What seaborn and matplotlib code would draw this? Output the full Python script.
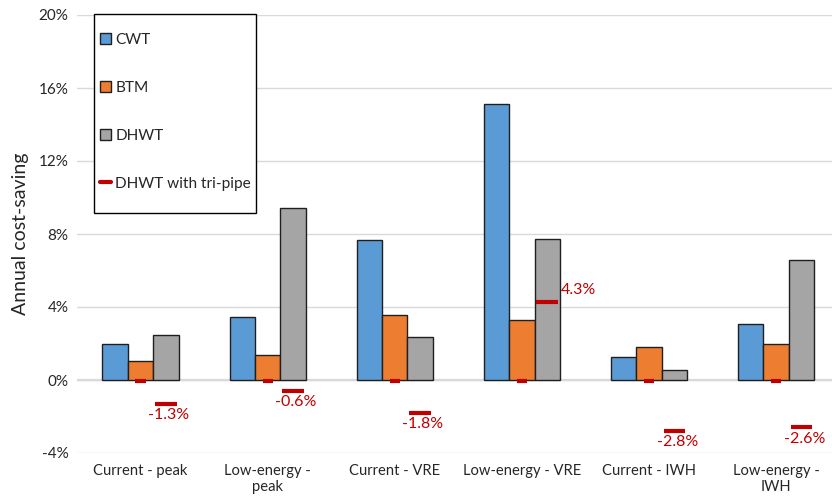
import numpy as np
import pandas as pd
import matplotlib
matplotlib.use("Agg")
import matplotlib.pyplot as plt
import seaborn as sns
from matplotlib.patches import Patch, Rectangle
from matplotlib.lines import Line2D

categories = ["Current - peak", "Low-energy -\npeak", "Current - VRE",
              "Low-energy - VRE", "Current - IWH", "Low-energy -\nIWH"]
cwt = [1.95, 3.45, 7.65, 15.1, 1.25, 3.05]
btm = [1.05, 1.35, 3.55, 3.3, 1.8, 1.95]
dhwt = [2.45, 9.4, 2.35, 7.75, 0.55, 6.6]
tripipe_zero = [0, 0, 0, 0, 0, 0]
tripipe = [-1.3, -0.6, -1.8, 4.3, -2.8, -2.6]
tripipe_labels = ["-1.3%", "-0.6%", "-1.8%", "4.3%", "-2.8%", "-2.6%"]
series = ["CWT", "BTM", "DHWT"]
colors = ["#5B9BD5", "#ED7D31", "#A5A5A5"]
red = "#C00000"
W, H = 832, 504

sns.set_theme(style="white")
plt.rcParams["font.family"] = ["Lato", "DejaVu Sans"]

df = pd.DataFrame({
    "category": categories * 3,
    "series": [s for s in series for _ in categories],
    "value": cwt + btm + dhwt,
})

fig = plt.figure(figsize=(W / 100, H / 100), dpi=100)
ax = fig.add_axes([77 / W, 51 / H, 755 / W, 438 / H])

sns.barplot(data=df, x="category", y="value", hue="series", order=categories,
            hue_order=series, palette=colors, saturation=1, width=0.6, ax=ax,
            edgecolor="#1f1f1f", linewidth=1.0, legend=False, zorder=3)

ax.set_ylim(-4, 20)
ax.set_xlim(-0.5, 5.44)
ax.set_yticks(np.arange(-4, 21, 4))
ax.set_yticklabels([f"{v}%" for v in range(-4, 21, 4)])
ax.yaxis.grid(True, color="#D9D9D9", linewidth=1.0, zorder=0)
ax.axhline(0, color="#D9D9D9", linewidth=1.6, zorder=2)
for s in ax.spines.values():
    s.set_visible(False)
ax.tick_params(axis="both", length=0, colors="#262626")
ax.tick_params(axis="x", pad=8, labelsize=10.6)
ax.tick_params(axis="y", pad=6, labelsize=11)
ax.set_xlabel("")
ax.set_ylabel("Annual cost-saving", fontsize=14, color="#262626")
ax.yaxis.set_label_coords(-0.064, 0.5)

x = np.arange(len(categories))
# zero markers of tri-pipe series at category centers
for xi, v in zip(x, tripipe_zero):
    ax.plot([xi - 0.04, xi + 0.04], [v - 0.08, v - 0.08], color=red,
            linewidth=3, solid_capstyle="butt", zorder=4)

# tri-pipe values at DHWT bar position
for xi, v, lab in zip(x, tripipe, tripipe_labels):
    xc = xi + 0.2
    ax.plot([xc - 0.085, xc + 0.085], [v, v], color=red, linewidth=3,
            solid_capstyle="butt", zorder=4)
    if v > 0:
        ax.annotate(lab, (xc + 0.085, v), xytext=(2, 3), textcoords="offset points",
                    ha="left", va="bottom", color=red, fontsize=11.5)
    else:
        ax.annotate(lab, (xc, v), xytext=(2, -3), textcoords="offset points",
                    ha="center", va="top", color=red, fontsize=11.5)

handles = [Patch(facecolor=c, edgecolor="#1f1f1f", linewidth=1.0) for c in colors]
handles.append(Line2D([0], [0], color=red, linewidth=3))
leg = fig.legend(handles, series + ["DHWT with tri-pipe"], loc="upper left",
                 bbox_to_anchor=(100 / W, 1 - 33 / H), fontsize=11.1, frameon=False,
                 labelspacing=2.2, handlelength=0.7, handleheight=0.7,
                 handletextpad=0.3, borderpad=0, borderaxespad=0)
for t in leg.get_texts():
    t.set_color("#262626")
fig.patches.append(Rectangle((94 / W, 1 - 213 / H), 162 / W, 199 / H,
                             transform=fig.transFigure, facecolor="white",
                             edgecolor="black", linewidth=1.0, zorder=0.5))
leg.set_zorder(5)

fig.savefig("out.png", dpi=100)
